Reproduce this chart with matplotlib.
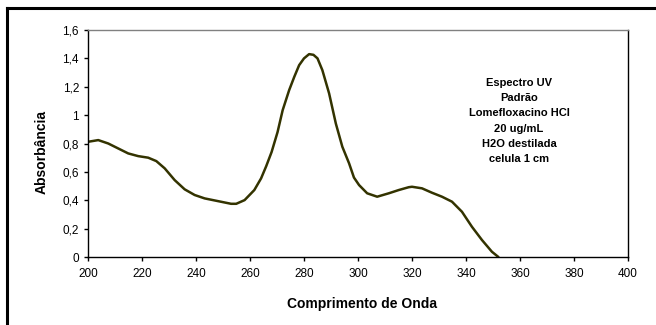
import matplotlib.pyplot as plt
from matplotlib.lines import Line2D
from matplotlib.ticker import FuncFormatter, MultipleLocator

# UV spectrum, lomefloxacin HCl standard
wavelength = [200, 203.8, 207.5, 211.2, 214.9, 218.6, 222.3, 225.3, 228.4, 232.1,
              235.8, 239.5, 243.2, 248.1, 253.0, 254.9, 258.0, 261.6, 264.1, 266.0,
              268.0, 270.2, 272.1, 274.5, 276.4, 278.2, 280.0, 281.9, 283.5, 285.0,
              286.8, 289.3, 291.8, 294.2, 296.7, 298.5, 300.4, 303.4, 307.1, 311.4,
              315.1, 318.8, 320.0, 323.7, 327.4, 331.1, 334.8, 338.5, 342.2, 345.9,
              349.6, 352.0]
absorbance = [0.812, 0.824, 0.800, 0.765, 0.730, 0.711, 0.700, 0.676, 0.625, 0.542,
              0.477, 0.437, 0.413, 0.394, 0.375, 0.375, 0.401, 0.472, 0.554, 0.640,
              0.740, 0.880, 1.035, 1.176, 1.270, 1.352, 1.400, 1.430, 1.425, 1.400,
              1.317, 1.153, 0.940, 0.777, 0.660, 0.560, 0.507, 0.449, 0.425, 0.449,
              0.472, 0.492, 0.495, 0.484, 0.453, 0.425, 0.390, 0.319, 0.213, 0.120,
              0.037, 0.0]

info_lines = ["Espectro UV", "Padrão", "Lomefloxacino HCl", "20 ug/mL",
              "H2O destilada", "celula 1 cm"]

plt.rcParams["font.family"] = ["Liberation Sans", "DejaVu Sans"]

W, H = 656, 325
fig = plt.figure(figsize=(W / 100, H / 100), dpi=100)
ax = fig.add_axes([88 / W, 1 - 257 / H, (628 - 88) / W, (257 - 30) / H])

ax.plot(wavelength, absorbance, color="#333300", linewidth=1.8, solid_capstyle="round")

ax.set_xlim(200, 400)
ax.set_ylim(0, 1.6)
ax.xaxis.set_major_locator(MultipleLocator(20))
ax.yaxis.set_major_locator(MultipleLocator(0.2))
ax.yaxis.set_major_formatter(FuncFormatter(lambda v, p: f"{v:g}".replace(".", ",")))
ax.tick_params(direction="out", length=3, width=1, labelsize=8.5, color="black")
ax.tick_params(axis="y", pad=3.5)
ax.tick_params(axis="x", pad=5)

ax.spines["left"].set_color("black")
ax.spines["bottom"].set_color("black")
ax.spines["top"].set_color("#808080")
ax.spines["right"].set_color("black")
for s in ax.spines.values():
    s.set_linewidth(1)

fig.text(362 / W, 1 - 308 / H, "Comprimento de Onda", ha="center", va="baseline",
         fontsize=10, fontweight="bold")
fig.text(42 / W, 1 - 152 / H, "Absorbância", ha="center", va="center",
         rotation=90, fontsize=10, fontweight="bold")

# note block inside the plot area
fig.text(519 / W, 1 - 121 / H, "\n".join(info_lines), ha="center", va="center",
         ma="center", fontsize=8, fontweight="bold", linespacing=1.63)

# outer chart frame (top and left edges)
fig.add_artist(Line2D([7 / W, 1], [1 - 8 / H, 1 - 8 / H], color="black", linewidth=2.2,
                      transform=fig.transFigure))
fig.add_artist(Line2D([7 / W, 7 / W], [0, 1 - 8 / H], color="black", linewidth=2.2,
                      transform=fig.transFigure))

fig.savefig("out.png", dpi=100)
